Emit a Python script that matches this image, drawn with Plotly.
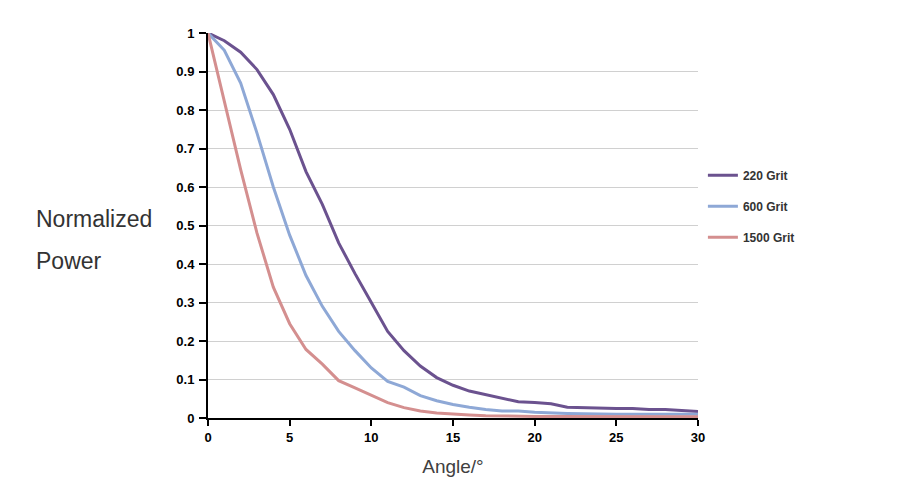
import plotly.graph_objects as go

angle = list(range(0, 31))
grit_220 = [1, 0.98, 0.95, 0.905, 0.84, 0.75, 0.64, 0.555, 0.455, 0.375, 0.30,
            0.225, 0.175, 0.135, 0.105, 0.085, 0.07, 0.06, 0.05, 0.042, 0.04,
            0.037, 0.028, 0.027, 0.025, 0.025, 0.025, 0.022, 0.022, 0.02, 0.017]
grit_600 = [1, 0.955, 0.87, 0.74, 0.60, 0.475, 0.37, 0.29, 0.225, 0.175, 0.13,
            0.095, 0.08, 0.058, 0.045, 0.035, 0.028, 0.022, 0.018, 0.018, 0.015,
            0.013, 0.012, 0.011, 0.01, 0.01, 0.01, 0.01, 0.01, 0.01, 0.01]
grit_1500 = [1, 0.82, 0.645, 0.48, 0.34, 0.245, 0.178, 0.14, 0.097, 0.078, 0.058,
             0.04, 0.027, 0.018, 0.013, 0.01, 0.008, 0.006, 0.005, 0.005, 0.004,
             0.004, 0.004, 0.003, 0.003, 0.003, 0.003, 0.003, 0.003, 0.003, 0.003]
series_names = ["220 Grit", "600 Grit", "1500 Grit"]
colors = ["#6B528F", "#8EA8D6", "#D48F8F"]
x_ticks = [0, 5, 10, 15, 20, 25, 30]
y_ticks = [0, 0.1, 0.2, 0.3, 0.4, 0.5, 0.6, 0.7, 0.8, 0.9, 1]

FONT = "Liberation Sans, Arial, sans-serif"

fig = go.Figure()
for name, vals, c in zip(series_names, [grit_220, grit_600, grit_1500], colors):
    fig.add_trace(go.Scatter(x=angle, y=vals, mode="lines", name=name,
                             legendgroup=name,
                             line=dict(color=c, width=3)))

fig.update_layout(
    width=900, height=500,
    margin=dict(l=208, r=202, t=33, b=82),
    plot_bgcolor="white", paper_bgcolor="white",
    font=dict(family=FONT, color="#000"),
    showlegend=True,
    legend=dict(x=1.01, y=0.55, xanchor="left", yanchor="middle",
                font=dict(size=12, color="#333", family=FONT, weight="bold"),
                tracegroupgap=12, itemwidth=30, bgcolor="rgba(0,0,0,0)"),
    xaxis=dict(range=[0, 30], tickvals=x_ticks, showgrid=False,
               showline=True, linecolor="black", linewidth=2,
               ticks="outside", ticklen=6, tickcolor="black", tickwidth=2,
               tickfont=dict(size=13, color="#000", family=FONT, weight="bold"),
               zeroline=False,
               title=dict(text="Angle/°", font=dict(size=19, color="#404040"),
                          standoff=16)),
    yaxis=dict(range=[0, 1], tickvals=y_ticks,
               ticktext=[("%g" % v) for v in y_ticks],
               showgrid=True, gridcolor="#D0D0D0", gridwidth=1,
               showline=True, linecolor="black", linewidth=2,
               ticks="outside", ticklen=7, tickcolor="black", tickwidth=2,
               ticklabelstandoff=2,
               tickfont=dict(size=13, color="#000", family=FONT, weight="bold"),
               zeroline=False),
)
pw, ph = 900 - 208 - 202, 500 - 33 - 82
for text, px, py in [("Normalized", 34, 219), ("Power", 34, 261)]:
    fig.add_annotation(text=text, x=(px - 208) / pw, y=(500 - 82 - py) / ph,
                       xref="paper", yref="paper", showarrow=False,
                       xanchor="left", yanchor="middle",
                       font=dict(size=23, color="#333333", family=FONT))

fig.write_html("out.html")
